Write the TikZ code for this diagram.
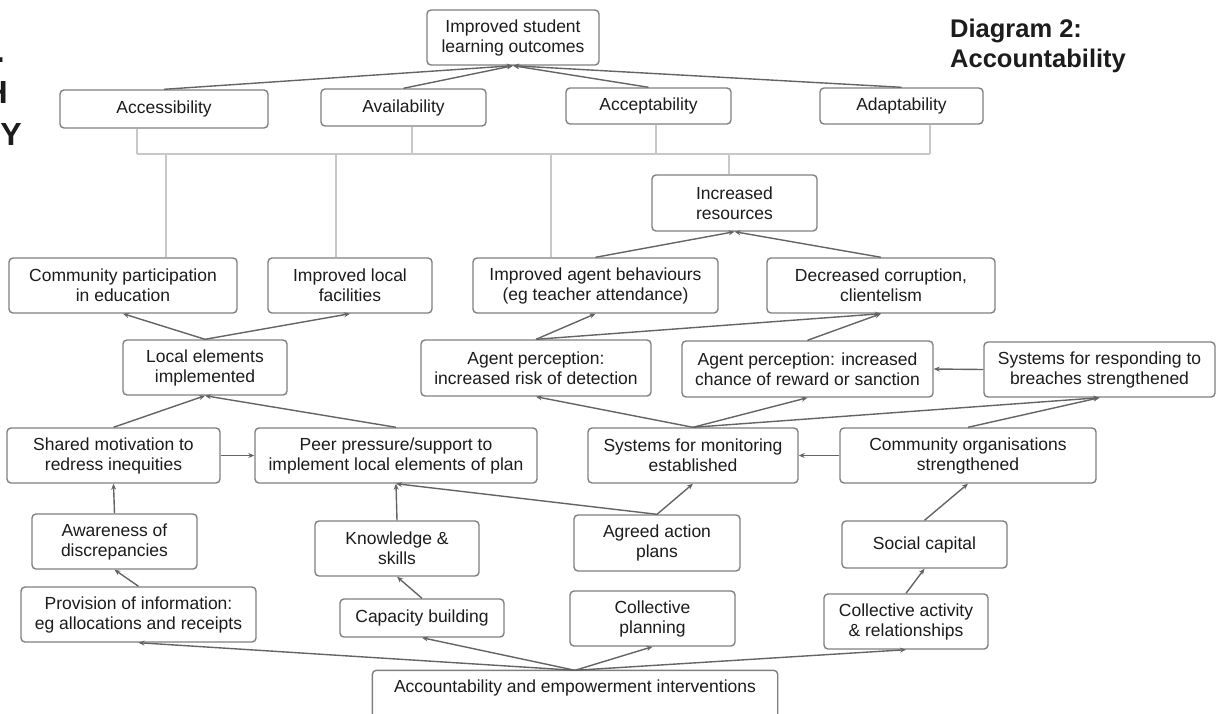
\documentclass[tikz,border=0pt]{standalone}
\usepackage{fontspec}
\setmainfont{Liberation Sans}
\usetikzlibrary{arrows.meta,calc}
\definecolor{boxgray}{HTML}{808080}
\definecolor{arrgray}{HTML}{646464}
\definecolor{treegray}{HTML}{C8C8C8}
\definecolor{txt}{HTML}{1C1C1C}
\begin{document}
\begin{tikzpicture}[x=1pt,y=-1pt,
  box/.style={draw=boxgray, line width=1.4pt, rounded corners=4pt, fill=white, align=center, inner sep=0pt, text=txt, font=\fontsize{17.5}{20}\selectfont},
  arr/.style={draw=arrgray, line width=1.4pt, -{Stealth[length=6pt,width=5pt]}},
  tree/.style={draw=treegray, line width=1.3pt},
  ttl/.style={font=\fontsize{25.5}{30}\selectfont\bfseries, text=txt, anchor=base west, inner sep=0pt},
  edge/.style={font=\fontsize{32}{38}\selectfont\bfseries, text=txt, anchor=base east, inner sep=0pt}]
\useasboundingbox (0,0) rectangle (1223,713);

% cut-off text at left edge and title
\node[edge] (e1) at (5,62) {.};
\node[edge] (e2) at (8,103) {H};
\node[edge] (e3) at (22,145) {Y};
\node[ttl] (t1) at (950,37) {Diagram 2:};
\node[ttl] (t2) at (950,67) {Accountability};

% boxes
\node[box, minimum width=172pt, minimum height=55pt] (top) at (513,37.5) {Improved student\\learning outcomes};
\node[box, minimum width=208pt, minimum height=38pt] (acc) at (164,109) {Accessibility};
\node[box, minimum width=165pt, minimum height=37pt] (ava) at (403.5,107.5) {Availability};
\node[box, minimum width=165pt, minimum height=36pt] (accp) at (648.5,106) {Acceptability};
\node[box, minimum width=163pt, minimum height=36pt] (ada) at (901.5,106) {Adaptability};
\node[box, minimum width=165pt, minimum height=56pt] (res) at (734.5,203) {Increased\\resources};
\node[box, minimum width=228pt, minimum height=55pt] (comm) at (123,285.5) {Community participation\\in education};
\node[box, minimum width=164pt, minimum height=55pt] (fac) at (350,285.5) {Improved local\\facilities};
\node[box, minimum width=245pt, minimum height=55pt] (beh) at (595.5,285.5) {Improved agent behaviours\\(eg teacher attendance)};
\node[box, minimum width=228pt, minimum height=55pt] (corr) at (881,285.5) {Decreased corruption,\\clientelism};
\node[box, minimum width=164pt, minimum height=55pt] (loc) at (205,367.5) {Local elements\\implemented};
\node[box, minimum width=230pt, minimum height=56pt] (risk) at (536,368) {Agent perception:\\increased risk of detection};
\node[box, minimum width=251pt, minimum height=56pt] (chance) at (807.5,369) {Agent perception: increased\\chance of reward or sanction};
\node[box, minimum width=231pt, minimum height=55pt] (resp) at (1099.5,369.5) {Systems for responding to\\breaches strengthened};
\node[box, minimum width=213pt, minimum height=55pt] (shared) at (113.5,455.5) {Shared motivation to\\redress inequities};
\node[box, minimum width=282pt, minimum height=55pt] (peer) at (396,455.5) {Peer pressure/support to\\implement local elements of plan};
\node[box, minimum width=210pt, minimum height=55pt] (mon) at (693,455.5) {Systems for monitoring\\established};
\node[box, minimum width=256pt, minimum height=55pt] (corg) at (968,455.5) {Community organisations\\strengthened};
\node[box, minimum width=165pt, minimum height=55pt] (aware) at (114.5,541.5) {Awareness of\\discrepancies};
\node[box, minimum width=164pt, minimum height=55pt] (know) at (397,548.5) {Knowledge \&\\skills};
\node[box, minimum width=166pt, minimum height=56pt] (agreed) at (657,543) {Agreed action\\plans};
\node[box, minimum width=165pt, minimum height=47pt] (social) at (924.5,544.5) {Social capital};
\node[box, minimum width=235pt, minimum height=55pt] (prov) at (138.5,614.5) {Provision of information:\\eg allocations and receipts};
\node[box, minimum width=164pt, minimum height=38pt] (cap) at (422,618) {Capacity building};
\node[box, minimum width=165pt, minimum height=55pt] (cplan) at (652.5,618.5) {Collective\\planning};
\node[box, minimum width=164pt, minimum height=55pt] (cact) at (906,621.5) {Collective activity\\\& relationships};
\node[box, draw=none, fill=none, minimum width=404pt, minimum height=34pt] (acct) at (575,688) {Accountability and empowerment interventions};
\draw[draw=boxgray, line width=1.4pt, rounded corners=4pt] ([yshift=-30pt]acct.south west) -- (acct.north west) -- (acct.north east) -- ([yshift=-30pt]acct.south east);

% light gray tree
\coordinate (h1) at (137,154);
\coordinate (h2) at (930,154);
\coordinate (u2) at (412,154);
\coordinate (u3) at (656,154);
\coordinate (d1) at (166,154);
\coordinate (d2) at (336,154);
\coordinate (d3) at (551,154);
\coordinate (d4) at (729,154);
\draw[tree] (h1) -- (h2);
\draw[tree] (h1) -- (h1 |- acc.south);
\draw[tree] (u2) -- (u2 |- ava.south);
\draw[tree] (u3) -- (u3 |- accp.south);
\draw[tree] (h2) -- (h2 |- ada.south);
\draw[tree] (d1) -- (d1 |- comm.north);
\draw[tree] (d2) -- (d2 |- fac.north);
\draw[tree] (d3) -- (d3 |- beh.north);
\draw[tree] (d4) -- (d4 |- res.north);

% arrows
\draw[arr] (acc.north) -- (top.south);
\draw[arr] (ava.north) -- (top.south);
\draw[arr] (accp.north) -- (top.south);
\draw[arr] (ada.north) -- (top.south);
\draw[arr] (beh.north) -- (res.south);
\draw[arr] (corr.north) -- (res.south);
\draw[arr] (loc.north) -- (comm.south);
\draw[arr] (loc.north) -- (fac.south);
\draw[arr] (risk.north) -- (beh.south);
\draw[arr] (risk.north) -- (corr.south);
\draw[arr] (chance.north) -- (corr.south);
\draw[arr] (resp.west) -- (chance.east);
\draw[arr] (mon.north) -- (risk.south);
\draw[arr] (mon.north) -- (chance.south);
\draw[arr] (mon.north) -- (resp.south);
\draw[arr] (corg.north) -- (resp.south);
\draw[arr] (corg.west) -- (mon.east);
\draw[arr] (shared.east) -- (peer.west);
\draw[arr] (shared.north) -- (loc.south);
\draw[arr] (peer.north) -- (loc.south);
\draw[arr] (agreed.north) -- (mon.south);
\draw[arr] (agreed.north) -- (peer.south);
\draw[arr] (know.north) -- (peer.south);
\draw[arr] (aware.north) -- (shared.south);
\draw[arr] (prov.north) -- (aware.south);
\draw[arr] (cap.north) -- (know.south);
\draw[arr] (social.north) -- (corg.south);
\draw[arr] (cact.north) -- (social.south);
\draw[arr] (acct.north) -- (prov.south);
\draw[arr] (acct.north) -- (cap.south);
\draw[arr] (acct.north) -- (cplan.south);
\draw[arr] (acct.north) -- (cact.south);
\end{tikzpicture}
\end{document}
